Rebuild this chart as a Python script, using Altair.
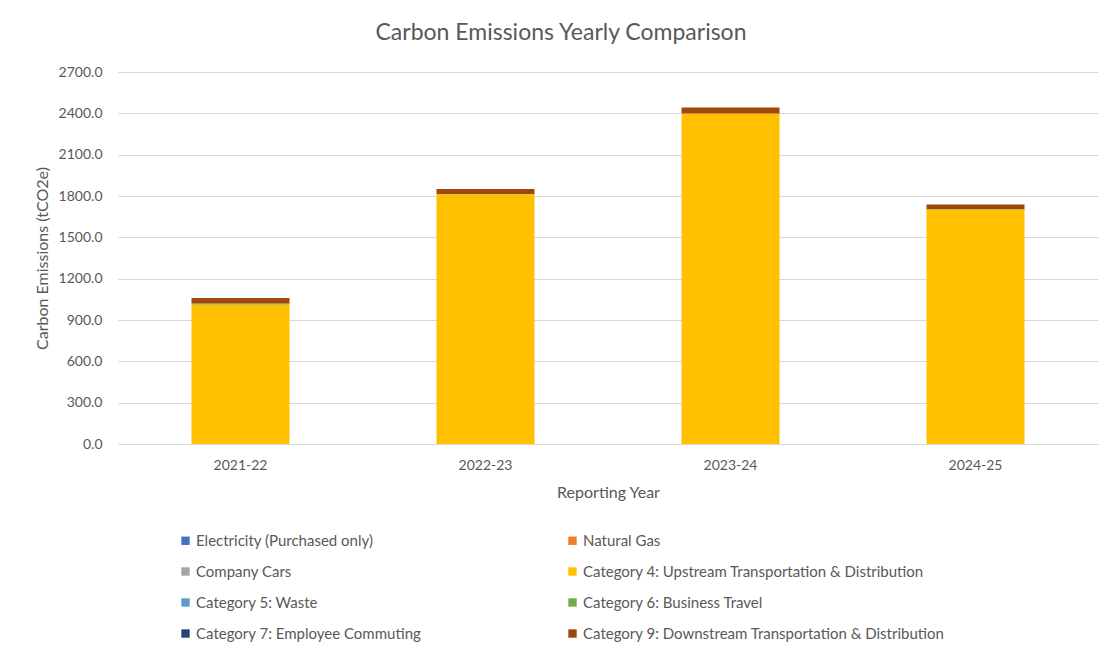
import altair as alt
import pandas as pd

years = ["2021-22", "2022-23", "2023-24", "2024-25"]
categories = [
    "Electricity (Purchased only)",
    "Natural Gas",
    "Company Cars",
    "Category 4: Upstream Transportation & Distribution",
    "Category 5: Waste",
    "Category 6: Business Travel",
    "Category 7: Employee Commuting",
    "Category 9: Downstream Transportation & Distribution",
]
colors = ["#4472C4", "#ED7D31", "#A5A5A5", "#FFC000", "#5B9BD5", "#70AD47", "#264478", "#9E480E"]

electricity = [0.0, 0.0, 0.0, 0.0]
natural_gas = [0.0, 0.0, 0.0, 0.0]
company_cars = [0.0, 0.0, 0.0, 0.0]
cat4_upstream = [1012.0, 1812.0, 2398.0, 1702.0]
cat5_waste = [0.0, 0.0, 0.0, 0.0]
cat6_travel = [8.0, 2.0, 1.0, 1.0]
cat7_commuting = [0.0, 0.0, 0.0, 0.0]
cat9_downstream = [40.0, 36.0, 44.0, 36.0]

series = [electricity, natural_gas, company_cars, cat4_upstream,
          cat5_waste, cat6_travel, cat7_commuting, cat9_downstream]

rows = []
for ci, (cat, vals) in enumerate(zip(categories, series)):
    for y, v in zip(years, vals):
        rows.append({"Year": y, "Category": cat, "Value": v, "order": ci})
df = pd.DataFrame(rows)

FONT = "Lato"
GREY = "#595959"

chart = alt.Chart(df).mark_bar().encode(
    x=alt.X("Year:N", sort=years, title="Reporting Year",
            scale=alt.Scale(paddingInner=0.6, paddingOuter=0.3),
            axis=alt.Axis(labelAngle=0, ticks=False, labelPadding=14,
                          titlePadding=12, domainColor="#d9d9d9")),
    y=alt.Y("Value:Q", title="Carbon Emissions (tCO2e)",
            scale=alt.Scale(domain=[0, 2700], nice=False),
            axis=alt.Axis(values=list(range(0, 2701, 300)), format=".1f",
                          ticks=False, domain=False, labelPadding=16,
                          titlePadding=8, gridColor="#d9d9d9")),
    color=alt.Color("Category:N", sort=categories,
                    scale=alt.Scale(domain=categories, range=colors),
                    legend=alt.Legend(title=None, orient="none", legendX=60, legendY=461,
                                      direction="horizontal",
                                      columns=2, columnPadding=143, rowPadding=15,
                                      symbolType="square", symbolSize=70,
                                      symbolStrokeWidth=0, labelOffset=3,
                                      labelLimit=500)),
    order=alt.Order("order:Q", sort="ascending"),
).properties(
    width=980, height=372,
    title=alt.TitleParams("Carbon Emissions Yearly Comparison", fontSize=23,
                          font=FONT, color=GREY, fontWeight="normal",
                          offset=0, anchor="middle", dy=-20, dx=-47),
    autosize=alt.AutoSizeParams(type="none"),
    padding={"left": 110, "top": 64, "right": 5, "bottom": 205},
).configure_axis(
    labelFont=FONT, titleFont=FONT, labelColor=GREY, titleColor=GREY,
    labelFontSize=14, titleFontSize=16, titleFontWeight="normal",
).configure_legend(
    labelFont=FONT, labelColor=GREY, labelFontSize=15,
).configure_view(stroke=None)

chart.save("out.html", embed_options={"renderer": "svg", "actions": False})
